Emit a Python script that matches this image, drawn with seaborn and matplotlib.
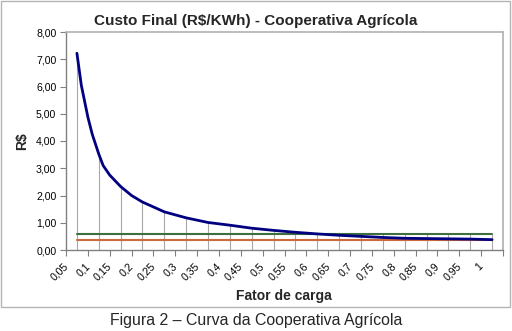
import numpy as np
import pandas as pd
import matplotlib
matplotlib.use('Agg')
import matplotlib.pyplot as plt
import matplotlib.transforms as mtransforms
import seaborn as sns
from matplotlib.patches import Rectangle
from matplotlib.ticker import FuncFormatter

# valores (custo final em R$/KWh x fator de carga)
fator = [0.05, 0.06, 0.075, 0.085, 0.1, 0.11, 0.125, 0.15, 0.175, 0.2, 0.25, 0.3, 0.35,
         0.4, 0.45, 0.5, 0.55, 0.6, 0.65, 0.7, 0.75, 0.8, 0.85, 0.9, 0.95, 1.0]
custo = [7.22, 6.05, 4.88, 4.25, 3.52, 3.10, 2.75, 2.33, 2.00, 1.76, 1.40, 1.18, 1.01,
         0.91, 0.80, 0.72, 0.65, 0.59, 0.54, 0.50, 0.46, 0.43, 0.42, 0.41, 0.40, 0.38]

categorias = [0.05, 0.1, 0.15, 0.2, 0.25, 0.3, 0.35, 0.4, 0.45, 0.5,
              0.55, 0.6, 0.65, 0.7, 0.75, 0.8, 0.85, 0.9, 0.95, 1.0]
rotulos = ['0,05', '0,1', '0,15', '0,2', '0,25', '0,3', '0,35', '0,4', '0,45', '0,5',
           '0,55', '0,6', '0,65', '0,7', '0,75', '0,8', '0,85', '0,9', '0,95', '1']
linha_verde = [0.59] * 20
linha_laranja = [0.38] * 20

sns.set_style('white')
plt.rcParams['font.family'] = ['Liberation Sans', 'DejaVu Sans']

fig = plt.figure(figsize=(5.12, 3.31), dpi=100)
ax = fig.add_axes([66 / 512, 1 - 250 / 331, 437 / 512, 218 / 331])

curva = pd.DataFrame({'fator': fator, 'custo': custo})
cat = pd.DataFrame({'fator': categorias, 'verde': linha_verde, 'laranja': linha_laranja})

# linhas de queda ate o maior valor de cada categoria
topo = curva.set_index('fator')['custo'].loc[categorias].values
topo = np.maximum(topo, cat['verde'].values)
ax.vlines(cat['fator'], 0, topo, color='#a8a8a8', lw=0.8, zorder=1)

sns.lineplot(data=cat, x='fator', y='verde', color='#3f6f3f', lw=1.5, ax=ax, zorder=2)
sns.lineplot(data=cat, x='fator', y='laranja', color='#cc6a3c', lw=1.5, ax=ax, zorder=2)
sns.lineplot(data=curva, x='fator', y='custo', color='#000080', lw=2.0, ax=ax, zorder=3)

ax.set_xlim(0.025, 1.025)
ax.set_ylim(0, 8)
ax.set_yticks(range(0, 9))
ax.yaxis.set_major_formatter(FuncFormatter(lambda v, p: f'{v:.2f}'.replace('.', ',')))

limites = [0.025 + 0.05 * k for k in range(21)]
ax.set_xticks(limites)
ax.set_xticklabels(rotulos + [''], rotation=45, ha='right', va='top',
                   rotation_mode='anchor')
ax.tick_params(axis='both', labelsize=7.6, colors='#000000', length=4, width=0.8,
               direction='out', pad=3)
ax.tick_params(axis='x', pad=4)
ax.tick_params(axis='both', color='#808080')
ax.xaxis.set_ticks_position('bottom')
ax.yaxis.set_ticks_position('left')

desloc = mtransforms.ScaledTranslation(-3 / 100, 0, fig.dpi_scale_trans)
for lbl in ax.get_xticklabels():
    lbl.set_transform(lbl.get_transform() + desloc)

for s in ['left', 'bottom']:
    ax.spines[s].set_color('#808080')
    ax.spines[s].set_linewidth(1.0)
for s in ['top', 'right']:
    ax.spines[s].set_color('#b0b0b0')
    ax.spines[s].set_linewidth(1.2)

ax.set_xlabel('')
ax.set_ylabel('')
fig.text(22 / 512, 1 - 141 / 331, 'R$', rotation=90, fontsize=10, fontweight='bold',
         ha='center', va='center')
fig.text(284 / 512, 1 - 296 / 331, 'Fator de carga', fontsize=10, fontweight='bold',
         ha='center', va='center')
fig.text(256 / 512, 1 - 20.5 / 331, 'Custo Final (R$/KWh) - Cooperativa Agrícola',
         fontsize=11, fontweight='bold', ha='center', va='center')
fig.text(256.5 / 512, 1 - 320 / 331, 'Figura 2 – Curva da Cooperativa Agrícola',
         fontsize=11.4, ha='center', va='center')

fig.patches.append(Rectangle((1 / 512, 1 - 307 / 331), 509 / 512, 306 / 331,
                             transform=fig.transFigure, fill=False,
                             edgecolor='#b4b4b4', lw=1.0))

fig.savefig('out.png', dpi=100)
